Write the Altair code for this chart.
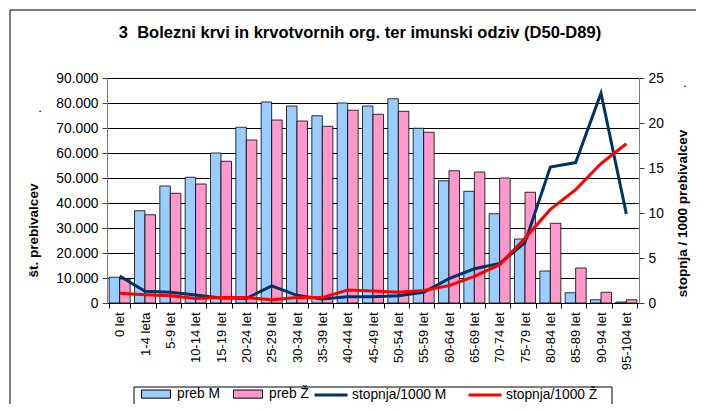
import altair as alt
import pandas as pd

categories = ["0 let", "1-4 leta", "5-9 let", "10-14 let", "15-19 let", "20-24 let",
              "25-29 let", "30-34 let", "35-39 let", "40-44 let", "45-49 let", "50-54 let",
              "55-59 let", "60-64 let", "65-69 let", "70-74 let", "75-79 let", "80-84 let",
              "85-89 let", "90-94 let", "95-104 let"]
preb_M = [10300, 36900, 46800, 50300, 60000, 70300, 80400, 78800, 74900, 80000, 78800,
          81700, 69900, 48900, 44700, 35700, 25600, 12800, 4100, 1300, 400]
preb_Z = [9600, 35300, 43900, 47600, 56700, 65200, 73200, 72800, 70700, 77100, 75500,
          76700, 68300, 52900, 52400, 50000, 44300, 31900, 14000, 4300, 1300]
stopnja_M = [3.0, 1.3, 1.2, 0.9, 0.55, 0.5, 1.9, 0.85, 0.45, 0.7, 0.7, 0.8, 1.2, 2.7,
             3.8, 4.4, 6.7, 15.1, 15.6, 23.3, 9.9]
stopnja_Z = [1.07, 0.93, 0.8, 0.5, 0.6, 0.6, 0.37, 0.6, 0.6, 1.44, 1.33, 1.2, 1.4, 1.93,
             2.96, 4.26, 7.2, 10.4, 12.6, 15.5, 17.7]

bar_series = ["preb M", "preb Ž"]
bar_colors = ["#99CCFF", "#FF99CC"]
line_series = ["stopnja/1000 M", "stopnja/1000 Ž"]
line_colors = ["#003366", "#FF0000"]
left_ticks = [0, 10000, 20000, 30000, 40000, 50000, 60000, 70000, 80000, 90000]
right_ticks = [0, 5, 10, 15, 20, 25]

title_text = "3\u00a0 Bolezni krvi in krvotvornih org. ter imunski odziv (D50-D89)"

bars_df = pd.DataFrame({
    "kat": categories * 2,
    "serija": [bar_series[0]] * len(categories) + [bar_series[1]] * len(categories),
    "vrednost": preb_M + preb_Z,
})
lines_df = pd.DataFrame({
    "kat": categories * 2,
    "serija": [line_series[0]] * len(categories) + [line_series[1]] * len(categories),
    "vrednost": stopnja_M + stopnja_Z,
})
one = pd.DataFrame({"a": [0]})

FONT = "Liberation Sans"

x_enc = alt.X(
    "kat:N", sort=categories,
    scale=alt.Scale(paddingInner=0.17, paddingOuter=0.085),
    axis=alt.Axis(title=None, labelAngle=270, labelFontSize=13, labelColor="black",
                  labelPadding=4, tickSize=5, tickColor="black", domainColor="black",
                  tickBand="extent", grid=False),
)

bars = alt.Chart(bars_df).mark_bar(stroke="black", strokeWidth=0.8).encode(
    x=x_enc,
    xOffset=alt.XOffset("serija:N", sort=bar_series,
                        scale=alt.Scale(paddingInner=0, paddingOuter=0)),
    y=alt.Y("vrednost:Q", scale=alt.Scale(domain=[0, 90000], nice=False),
            axis=alt.Axis(values=left_ticks,
                          labelExpr="replace(format(datum.value, ','), ',', '.')",
                          labelFontSize=13.8, labelColor="black", labelPadding=4,
                          tickSize=5, tickColor="#404040", domainColor="#808080",
                          grid=True, gridColor="black", gridWidth=1,
                          title="št. prebivalcev", titleFontSize=13.5, titleFontWeight="bold",
                          titleAngle=270, titleX=-74, titleY=152, titleAlign="center",
                          titleBaseline="middle", titleColor="black")),
    fill=alt.Fill("serija:N", sort=bar_series,
                  scale=alt.Scale(domain=bar_series, range=bar_colors),
                  legend=alt.Legend(title=None, orient="none", legendX=34, legendY=301,
                                    direction="horizontal",
                                    symbolType="M-1,-0.28H1V0.28H-1Z", symbolSize=841,
                                    symbolStrokeColor="black", symbolStrokeWidth=1,
                                    symbolOpacity=1,
                                    labelFontSize=13.8, labelColor="black", labelOffset=6,
                                    columnPadding=11, padding=0)),
)

lines = alt.Chart(lines_df).mark_line(strokeWidth=3).encode(
    x=x_enc,
    y=alt.Y("vrednost:Q", scale=alt.Scale(domain=[0, 25], nice=False),
            axis=alt.Axis(orient="right", values=right_ticks, labelFontSize=13.8,
                          labelColor="black", labelPadding=4, tickSize=5,
                          tickColor="#404040", domainColor="#808080", grid=False,
                          title="stopnja / 1000 prebivalcev", titleFontSize=13.5,
                          titleFontWeight="bold", titleAngle=270, titleX=43, titleY=135,
                          titleAlign="center", titleBaseline="middle", titleColor="black")),
    stroke=alt.Stroke("serija:N", sort=line_series,
                      scale=alt.Scale(domain=line_series, range=line_colors),
                      legend=alt.Legend(title=None, orient="none", legendX=206, legendY=299,
                                        direction="horizontal", symbolType="stroke",
                                        symbolSize=1089, symbolStrokeWidth=3,
                                        labelFontSize=13.8, labelColor="black",
                                        labelOffset=3, columnPadding=15, padding=0)),
)

legend_box = alt.Chart(one).mark_rect(fill="white", stroke="black", strokeWidth=1).encode(
    x=alt.value(27), x2=alt.value(505), y=alt.value(309), y2=alt.value(430))

frame_v = alt.Chart(one).mark_rule(color="black", strokeWidth=1).encode(
    x=alt.value(-97), x2=alt.value(-97), y=alt.value(-68), y2=alt.value(430))
frame_h = alt.Chart(one).mark_rule(color="black", strokeWidth=1).encode(
    x=alt.value(-97), x2=alt.value(700), y=alt.value(-68), y2=alt.value(-68))

title_mark = alt.Chart(one).mark_text(
    text=title_text, fontSize=16.5, fontWeight="bold", font=FONT, color="black",
    align="center", baseline="alphabetic").encode(x=alt.value(253), y=alt.value(-40))

dot_left = alt.Chart(one).mark_text(text=".", fontSize=13, color="black").encode(
    x=alt.value(-67), y=alt.value(30))
dot_right = alt.Chart(one).mark_text(text=".", fontSize=13, color="black").encode(
    x=alt.value(578), y=alt.value(5))

chart = alt.layer(legend_box, bars, lines, frame_v, frame_h, title_mark,
                  dot_left, dot_right).resolve_scale(
    y="independent"
).properties(
    width=532, height=225,
    autosize=alt.AutoSizeParams(type="none"),
    padding={"left": 99, "top": 70, "right": 57, "bottom": 101},
).configure(font=FONT).configure_view(stroke=None)

chart.save("out.html", embed_options={"renderer": "svg", "actions": False})
